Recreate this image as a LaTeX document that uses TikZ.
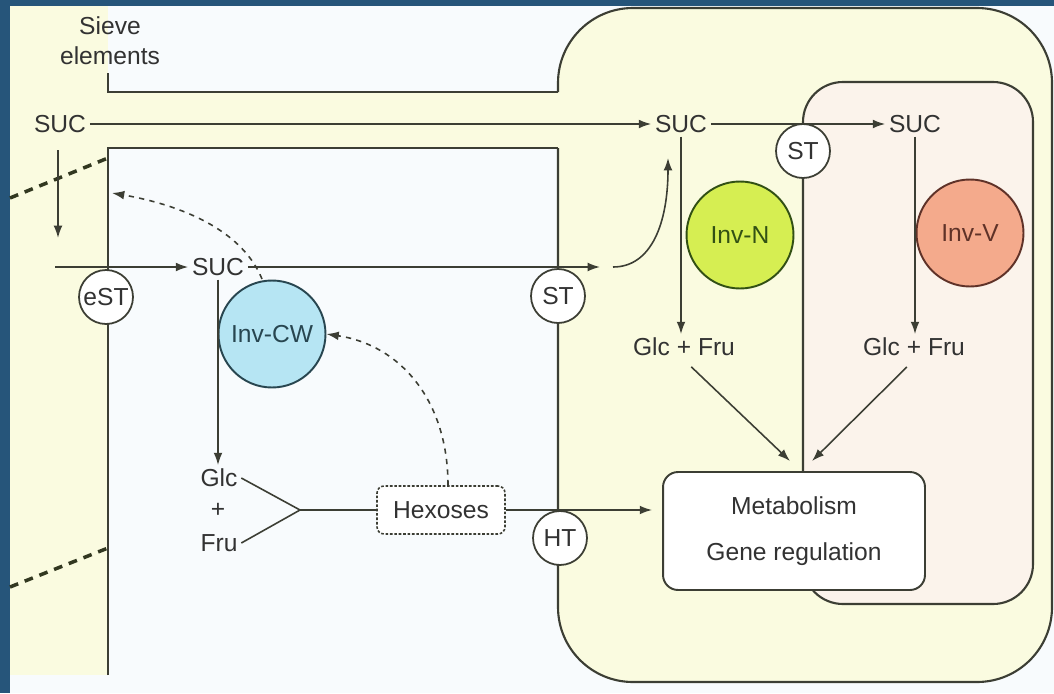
\documentclass[tikz,border=0pt]{standalone}
\usepackage{fontspec}
\setmainfont{Liberation Sans}
\usetikzlibrary{arrows.meta}
\definecolor{FrameClr}{RGB}{38,85,122}
\definecolor{CellClr}{RGB}{250,251,224}
\definecolor{ApoClr}{RGB}{248,251,253}
\definecolor{VacClr}{RGB}{251,243,235}
\definecolor{LineClr}{RGB}{60,62,52}
\definecolor{TextClr}{RGB}{50,50,50}
\definecolor{WallClr}{RGB}{50,56,32}
\definecolor{InvCWClr}{RGB}{182,229,243}
\definecolor{InvCWLine}{RGB}{40,70,80}
\definecolor{InvNClr}{RGB}{214,238,82}
\definecolor{InvNLine}{RGB}{50,80,20}
\definecolor{InvVClr}{RGB}{244,170,140}
\definecolor{InvVLine}{RGB}{95,50,40}

\begin{document}
\begin{tikzpicture}[x=0.02cm,y=-0.02cm,
  every node/.style={font=\fontsize{14}{17}\selectfont,text=TextClr},
  lbl/.style={inner sep=2pt},
  memb/.style={draw=LineClr,line width=1.2pt},
  flow/.style={draw=LineClr,line width=0.9pt},
  arr/.style={flow,-{Latex[length=7pt,width=5pt]}},
  fb/.style={arr,dash pattern=on 3pt off 3pt},
  wall/.style={draw=WallClr,line width=2pt,dash pattern=on 5pt off 4pt},
  carrier/.style={circle,draw=LineClr,line width=1pt,fill=white,minimum size=1.08cm,inner sep=0pt},
  enzyme/.style={circle,line width=1.1pt,minimum size=2.14cm,inner sep=0pt}]
\useasboundingbox (0,0) rectangle (1054,693);

% background and compartments
\fill[FrameClr] (0,0) rectangle (1054,693);
\fill[ApoClr] (10,6) rectangle (1054,693);
\fill[CellClr] (10,6) rectangle (108,675);
\fill[CellClr] (108,92) rectangle (560,148);
\fill[CellClr,rounded corners=1.5cm] (558,8) rectangle (1052,682);

\draw[memb,rounded corners=1.5cm] (558,148) -- (558,682) -- (1052,682) -- (1052,8) -- (558,8) -- (558,92);
\draw[memb] (558,92) -- (108,92) -- (108,73);
\draw[memb] (108,675) -- (108,148) -- (558,148);
\filldraw[memb,fill=VacClr,rounded corners=0.8cm] (803,82) rectangle (1033,604);

\draw[wall] (10,198) -- (108,158);
\draw[wall] (10,587) -- (108,548);

% nodes
\node[lbl,align=center] (sieve) at (110,41) {Sieve\\elements};
\node[lbl] (sucSE) at (60,124) {SUC};
\node[lbl] (sucSink) at (681,124) {SUC};
\node[lbl] (sucVac) at (915,124) {SUC};
\node[lbl] (sucApo) at (218,267) {SUC};

\node[carrier] (eST) at (106,297) {eST};
\node[carrier] (stSink) at (558,296) {ST};
\node[carrier] (stVac) at (803,151) {ST};
\node[carrier] (ht) at (560,538) {HT};

\node[enzyme,draw=InvCWLine,fill=InvCWClr,text=InvCWLine] (invCW) at (272,334) {Inv-CW};
\node[enzyme,draw=InvNLine,fill=InvNClr,text=InvNLine] (invN) at (740,235) {Inv-N};
\node[enzyme,draw=InvVLine,fill=InvVClr,text=InvVLine] (invV) at (970,233) {Inv-V};

\node[lbl] (glcSink) at (684,347) {Glc + Fru};
\node[lbl] (glcVac) at (914,347) {Glc + Fru};
\node[lbl] (glc) at (219,478) {Glc};
\node[lbl] (plus) at (218,510) {+};
\node[lbl] (fru) at (219,543) {Fru};
\coordinate (join) at (300,510);

\node[draw=LineClr,line width=0.9pt,dash pattern=on 1.5pt off 1pt,fill=white,rounded corners=4pt,
  minimum width=2.56cm,minimum height=0.96cm] (hex) at (441,510) {Hexoses};
\node[draw=LineClr,line width=1.1pt,fill=white,rounded corners=0.3cm,align=center,
  minimum width=5.24cm,minimum height=2.36cm] (metab) at (794,531) {Metabolism\\[9pt]Gene regulation};

% sucrose transport
\coordinate (seTop) at (58,150);
\coordinate (seBot) at (58,238);
\coordinate (seIn) at (55,267);
\coordinate (stOut) at (600,267);
\coordinate (curlIn) at (613,267);
\coordinate (curlTip) at (668,158);
\draw[arr] (sucSE) -- (sucSink);
\draw[arr] (sucSink) -- (sucVac);
\draw[arr] (seTop) -- (seBot);
\draw[arr] (seIn) -- (sucApo);
\draw[arr] (sucApo) -- (stOut);
\draw[arr] (curlIn) .. controls (652,267) and (668,222) .. (curlTip);

% cleavage
\draw[arr] (sucApo.south) -- (sucApo.south |- glc.north);
\draw[arr] (sucSink.south) -- (sucSink.south |- glcSink.north);
\draw[arr] (sucVac.south) -- (sucVac.south |- glcVac.north);
\draw[flow] (glc.east) -- (join);
\draw[flow] (fru.east) -- (join);
\draw[flow] (join) -- (join -| hex.west);
\draw[arr,shorten >=0.2cm] (hex.east) -- (hex.east -| metab.west);

\coordinate (mTipL) at (790,461);
\coordinate (mTipR) at (812,461);
\draw[arr,shorten <=0.2cm] (glcSink.south) -- (mTipL);
\draw[arr,shorten <=0.2cm] (glcVac.south) -- (mTipR);

% feedback
\coordinate (fbStart) at (262,279);
\coordinate (fbTip) at (112,193);
\draw[fb] (fbStart) .. controls (240,225) and (170,203) .. (fbTip);
\draw[fb] ([xshift=0.14cm]hex.north) .. controls (448,400) and (400,345) .. (invCW.east);

\end{tikzpicture}
\end{document}
